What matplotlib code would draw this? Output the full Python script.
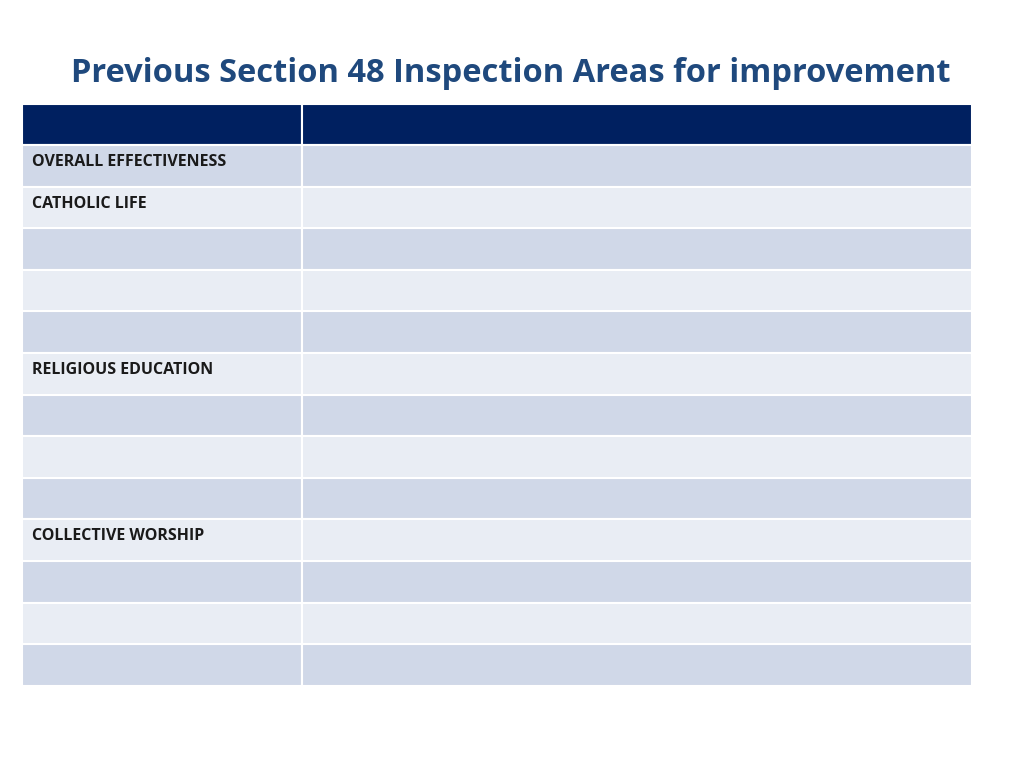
import matplotlib
matplotlib.use("Agg")
import matplotlib.pyplot as plt
from matplotlib.patches import Rectangle

title = "Previous Section 48 Inspection Areas for improvement"
row_labels = ["OVERALL EFFECTIVENESS", "CATHOLIC LIFE", "", "", "",
              "RELIGIOUS EDUCATION", "", "", "", "COLLECTIVE WORSHIP", "", "", ""]

fig = plt.figure(figsize=(10.24, 7.68), dpi=100)
ax = fig.add_axes([0, 0, 1, 1])
ax.set_xlim(0, 1024)
ax.set_ylim(768, 0)
ax.axis("off")

fam = ["Liberation Sans Narrow", "Open Sans", "DejaVu Sans"]
ax.text(511, 74, title, ha="center", va="center", fontsize=23.5, fontweight="bold",
        color="#1F497D", family=fam)

x0, x1, x2 = 22, 302, 972
top, hdr_h, row_h = 104, 41, 41.6
for xa, xb in [(x0, x1), (x1, x2)]:
    ax.add_patch(Rectangle((xa, top), xb - xa, hdr_h, facecolor="#002060",
                           edgecolor="white", lw=1.5))
y = top + hdr_h
for i, lab in enumerate(row_labels):
    c = "#D0D8E8" if i % 2 == 0 else "#E9EDF4"
    for xa, xb in [(x0, x1), (x1, x2)]:
        ax.add_patch(Rectangle((xa, y), xb - xa, row_h, facecolor=c,
                               edgecolor="white", lw=1.5))
    if lab:
        ax.text(x0 + 10, y + 17, lab, ha="left", va="center", fontsize=11.5,
                fontweight="bold", color="#1a1a1a", family=fam)
    y += row_h

fig.savefig("out.png", dpi=100)
